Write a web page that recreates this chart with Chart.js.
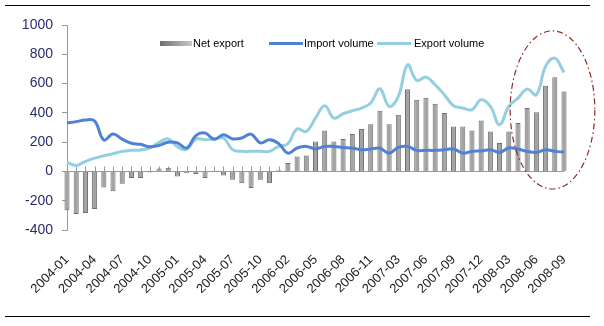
<!DOCTYPE html>
<html>
<head>
<meta charset="utf-8">
<script src="https://cdn.jsdelivr.net/npm/chart.js@4.4.0/dist/chart.umd.min.js"></script>
<style>
  html, body { margin: 0; padding: 0; background: #fff; }
  #wrap { position: relative; width: 604px; height: 326px; font-family: Arial, "Liberation Sans", sans-serif; }
  #wrap canvas { position: absolute; left: 0; top: 0; }
  .rule { position: absolute; left: 5px; width: 585px; height: 1px; background: #000; }
  .legend { position: absolute; top: 36px; font-size: 11px; color: #000; line-height: 14px; white-space: nowrap; }
  .sw { position: absolute; }
</style>
</head>
<body>
<div id="wrap">
  <canvas id="tradeChart" width="604" height="326"></canvas>
  <div class="rule" style="top:5px"></div>
  <div class="rule" style="top:316px"></div>
  <div class="sw" style="left:160px;top:41px;width:32px;height:5px;background:linear-gradient(to right,#6e6e6e,#c9c9c9)"></div>
  <div class="legend" style="left:193px">Net export</div>
  <div class="sw" style="left:269px;top:42px;width:34px;height:3px;background:#4f81d6"></div>
  <div class="legend" style="left:304px">Import volume</div>
  <div class="sw" style="left:377px;top:42px;width:34px;height:3px;background:#93cfe0"></div>
  <div class="legend" style="left:414px">Export volume</div>
</div>
<script>
window.onload = function () {

    // monthly categories (Jan 2006 and Jan 2007 are not reported separately)
    const months = [
        '2004-01', '2004-02', '2004-03', '2004-04', '2004-05', '2004-06',
        '2004-07', '2004-08', '2004-09', '2004-10', '2004-11', '2004-12',
        '2005-01', '2005-02', '2005-03', '2005-04', '2005-05', '2005-06',
        '2005-07', '2005-08', '2005-09', '2005-10', '2005-11', '2005-12',
        '2006-02', '2006-03', '2006-04', '2006-05', '2006-06', '2006-07',
        '2006-08', '2006-09', '2006-10', '2006-11', '2006-12',
        '2007-02', '2007-03', '2007-04', '2007-05', '2007-06', '2007-07',
        '2007-08', '2007-09', '2007-10', '2007-11', '2007-12',
        '2008-01', '2008-02', '2008-03', '2008-04', '2008-05', '2008-06',
        '2008-07', '2008-08', '2008-09'
    ];

    // labels shown on the axis
    const tickLabels = [
        '2004-01', '2004-04', '2004-07', '2004-10', '2005-01', '2005-04',
        '2005-07', '2005-10', '2006-02', '2006-05', '2006-08', '2006-11',
        '2007-03', '2007-06', '2007-09', '2007-12', '2008-03', '2008-06',
        '2008-09'
    ];

    const netExport = [
        -265, -290, -284, -257, -110, -136, -84, -45, -45, -8, 20, 25,
        -34, -10, -18, -45, 5, -27, -57, -80, -114, -57, -80, 8,
        57, 102, 109, 205, 280, 205, 221, 255, 289, 323, 414,
        323, 387, 562, 489, 503, 462, 399, 307, 307, 280, 348,
        273, 194, 273, 330, 433, 405, 585, 644, 546
    ];

    const importVolume = [
        330, 340, 352, 345, 215, 255, 220, 192, 185, 168, 178, 200,
        195, 160, 245, 262, 220, 250, 222, 228, 255, 195, 216, 190,
        125, 160, 171, 153, 171, 171, 164, 160, 148, 153, 158,
        125, 164, 171, 144, 144, 144, 148, 153, 125, 137, 140,
        148, 130, 160, 153, 137, 130, 148, 137, 132
    ];

    const exportVolume = [
        61, 41, 68, 91, 107, 121, 137, 144, 147, 160, 198, 222,
        168, 150, 222, 216, 221, 228, 148, 137, 137, 137, 137, 171,
        189, 289, 273, 364, 448, 364, 394, 414, 433, 467, 565,
        444, 512, 728, 621, 644, 592, 524, 448, 433, 421, 489,
        444, 319, 444, 501, 562, 524, 717, 774, 676
    ];

    const yTicks = [-400, -200, 0, 200, 400, 600, 800, 1000];

    // short marks on the zero line at each month
    const zeroTicks = {
        id: 'zeroTicks',
        beforeDatasetsDraw(chart) {
            const ctx = chart.ctx;
            const x = chart.scales.x, y = chart.scales.y;
            const y0 = y.getPixelForValue(0);
            ctx.save();
            ctx.strokeStyle = '#9a9a9a';
            ctx.lineWidth = 1;
            ctx.beginPath();
            for (let i = 0; i < months.length; i++) {
                const px = Math.round(x.getPixelForValue(i)) + 0.5;
                ctx.moveTo(px, y0);
                ctx.lineTo(px, y0 - 5);
            }
            ctx.stroke();
            ctx.restore();
        }
    };

    // dash-dot ellipse around the latest months
    const highlight = {
        id: 'highlight',
        afterDraw(chart) {
            const ctx = chart.ctx;
            const x = chart.scales.x, y = chart.scales.y;
            const cx = x.getPixelForValue(52.75);
            const cy = y.getPixelForValue(420);
            const rx = x.getPixelForValue(57.35) - cx;
            const ry = y.getPixelForValue(420) - y.getPixelForValue(960);
            ctx.save();
            ctx.strokeStyle = '#8e2b2b';
            ctx.lineWidth = 1.2;
            ctx.setLineDash([6, 3, 1.5, 3]);
            ctx.beginPath();
            ctx.ellipse(cx, cy, rx, ry, 0, 0, Math.PI * 2);
            ctx.stroke();
            ctx.restore();
        }
    };

    const data = {
        labels: months,
        datasets: [{
            type: 'line',
            label: 'Import volume',
            data: importVolume,
            borderColor: '#4f81d6',
            borderWidth: 3,
            pointRadius: 0,
            tension: 0.4,
            order: 1
        }, {
            type: 'line',
            label: 'Export volume',
            data: exportVolume,
            borderColor: '#93cfe0',
            borderWidth: 3,
            pointRadius: 0,
            tension: 0.4,
            order: 2
        }, {
            type: 'bar',
            label: 'Net export',
            data: netExport,
            backgroundColor: '#a3a3a3',
            borderColor: '#6e6e6e',
            borderWidth: 1,
            barPercentage: 0.55,
            categoryPercentage: 1,
            clip: false,
            order: 3
        }]
    };

    const config = {
        type: 'bar',
        data: data,
        options: {
            responsive: false,
            animation: false,
            layout: {
                padding: { left: 0, right: 40, top: 25, bottom: 0 }
            },
            plugins: {
                legend: { display: false },
                tooltip: { enabled: false }
            },
            scales: {
                x: {
                    offset: false,
                    grid: { display: false },
                    border: { display: false },
                    ticks: {
                        autoSkip: false,
                        maxRotation: 45,
                        minRotation: 45,
                        padding: 14,
                        color: '#222',
                        font: { family: 'Arial, "Liberation Sans"', size: 13 },
                        callback: function (value, index) {
                            const lab = months[index];
                            return tickLabels.includes(lab) ? lab : '';
                        }
                    },
                    afterFit: function (scale) { scale.height = 96; }
                },
                y: {
                    min: -400,
                    max: 1000,
                    afterBuildTicks: function (scale) {
                        scale.ticks = yTicks.map(v => ({ value: v }));
                    },
                    border: { display: true, color: '#9a9a9a', width: 1 },
                    grid: {
                        drawOnChartArea: true,
                        drawTicks: true,
                        tickLength: 5,
                        tickColor: '#9a9a9a',
                        color: function (ctx) {
                            return ctx.tick && ctx.tick.value === 0 ? '#9a9a9a' : 'rgba(0,0,0,0)';
                        }
                    },
                    ticks: {
                        padding: 9,
                        color: '#2b2b70',
                        font: { family: 'Arial, "Liberation Sans"', size: 14 },
                        callback: function (value) { return String(value); }
                    },
                    afterFit: function (scale) { scale.width = 67; }
                }
            }
        },
        plugins: [zeroTicks, highlight]
    };

    const tradeChart = new Chart(
        document.getElementById('tradeChart'),
        config
    );
}
</script>
</body>
</html>
